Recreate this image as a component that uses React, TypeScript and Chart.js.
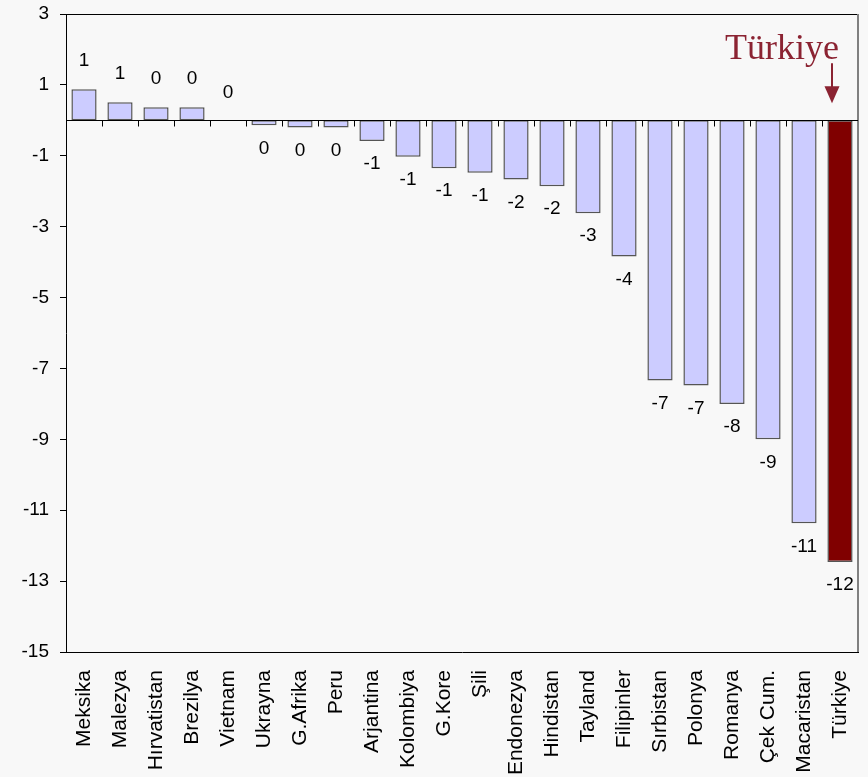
import { useEffect, useRef } from "react";
import { Chart, registerables } from "chart.js";

Chart.register(...registerables);

// Countries, ordered as plotted
const countries = [
  "Meksika", "Malezya", "Hırvatistan", "Brezilya", "Vietnam", "Ukrayna",
  "G.Afrika", "Peru", "Arjantina", "Kolombiya", "G.Kore", "Şili",
  "Endonezya", "Hindistan", "Tayland", "Filipinler", "Sırbistan", "Polonya",
  "Romanya", "Çek Cum.", "Macaristan", "Türkiye",
];

// Change for each country
const values = [
  0.88, 0.51, 0.37, 0.37, 0.0, -0.14,
  -0.2, -0.2, -0.58, -1.03, -1.35, -1.48,
  -1.67, -1.86, -2.62, -3.84, -7.34, -7.48,
  -8.0, -9.0, -11.37, -12.46,
];

const yTickValues = [3, 1, -1, -3, -5, -7, -9, -11, -13, -15];
const highlighted = "Türkiye";
const annotationText = "Türkiye";

const BG = "#f8f8f8";
const BAR_FILL = "#ccccff";
const HIGHLIGHT_FILL = "#800000";
const ANNOT_COLOR = "#8b2332";
const SANS = '"Liberation Sans", Arial, sans-serif';

const fmt = (v: number) => String(Math.round(v) === 0 ? 0 : Math.round(v));

const decorPlugin = {
  id: "decor",
  beforeDraw(chart: any) {
    const { ctx, width, height } = chart;
    ctx.save();
    ctx.fillStyle = BG;
    ctx.fillRect(0, 0, width, height);
    ctx.restore();
  },
  afterDatasetsDraw(chart: any) {
    const { ctx, chartArea } = chart;
    const ys = chart.scales.y;
    const zeroY = Math.round(ys.getPixelForValue(0)) + 0.5;
    ctx.save();

    // frame: top and right
    ctx.lineWidth = 1;
    ctx.strokeStyle = "#000";
    ctx.beginPath();
    ctx.moveTo(chartArea.left, chartArea.top + 0.5);
    ctx.lineTo(chartArea.right, chartArea.top + 0.5);
    ctx.stroke();
    ctx.strokeStyle = "#808080";
    ctx.lineWidth = 2;
    ctx.beginPath();
    ctx.moveTo(chartArea.right, chartArea.top);
    ctx.lineTo(chartArea.right, chartArea.bottom);
    ctx.stroke();

    // category axis at zero with tick marks between categories
    ctx.strokeStyle = "#000";
    ctx.lineWidth = 1;
    ctx.beginPath();
    ctx.moveTo(chartArea.left, zeroY);
    ctx.lineTo(chartArea.right, zeroY);
    const step = (chartArea.right - chartArea.left) / countries.length;
    for (let i = 1; i < countries.length; i++) {
      const x = Math.round(chartArea.left + i * step) + 0.5;
      ctx.moveTo(x, zeroY);
      ctx.lineTo(x, zeroY + 6);
    }
    ctx.stroke();

    // value labels
    const meta = chart.getDatasetMeta(0);
    ctx.fillStyle = "#000";
    ctx.font = `19px ${SANS}`;
    ctx.textAlign = "center";
    ctx.textBaseline = "middle";
    meta.data.forEach((bar: any, i: number) => {
      const v = values[i];
      const y = v >= 0 ? bar.y - 28 : bar.y + 23;
      ctx.fillText(fmt(v), bar.x, y);
    });

    // annotation over the highlighted country
    const hi = countries.indexOf(highlighted);
    const hb = meta.data[hi];
    const ax = hb.x - 8;
    const zero = ys.getPixelForValue(0);
    ctx.fillStyle = ANNOT_COLOR;
    ctx.strokeStyle = ANNOT_COLOR;
    ctx.font = `36px "Liberation Serif", "Times New Roman", serif`;
    ctx.textAlign = "right";
    ctx.textBaseline = "alphabetic";
    ctx.fillText(annotationText, hb.x - 1, zero - 61);
    ctx.lineWidth = 2;
    ctx.beginPath();
    ctx.moveTo(ax, zero - 57);
    ctx.lineTo(ax, zero - 32);
    ctx.stroke();
    ctx.beginPath();
    ctx.moveTo(ax - 7.5, zero - 34);
    ctx.lineTo(ax + 7.5, zero - 34);
    ctx.lineTo(ax, zero - 17);
    ctx.closePath();
    ctx.fill();

    ctx.restore();
  },
};

export default function App() {
  const canvasRef = useRef<HTMLCanvasElement | null>(null);

  useEffect(() => {
    const canvas = canvasRef.current;
    if (!canvas) return;
    const chart = new Chart(canvas, {
      type: "bar",
      data: {
        labels: countries,
        datasets: [
          {
            data: values,
            backgroundColor: countries.map((c) => (c === highlighted ? HIGHLIGHT_FILL : BAR_FILL)),
            borderColor: "#555555",
            borderWidth: 1.5,
            borderSkipped: false,
            categoryPercentage: 1,
            barPercentage: 0.7,
          },
        ],
      },
      options: {
        responsive: false,
        animation: false,
        layout: { padding: { top: 14, right: 10, left: 0, bottom: 0 } },
        plugins: {
          legend: { display: false },
          tooltip: { enabled: false },
        },
        scales: {
          x: {
            grid: { display: false },
            border: { display: true, color: "#000", width: 1 },
            ticks: {
              color: "#000",
              font: { family: SANS, size: 21 },
              maxRotation: 90,
              minRotation: 90,
              autoSkip: false,
              padding: 10,
            },
            afterFit: (scale: any) => {
              scale.height = 125;
              scale.paddingLeft = 0;
              scale.paddingRight = 0;
            },
          },
          y: {
            min: -15,
            max: 3,
            grid: {
              drawOnChartArea: false,
              drawTicks: true,
              tickLength: 6,
              color: "#000",
            },
            border: { display: true, color: "#000", width: 1 },
            ticks: {
              color: "#000",
              font: { family: SANS, size: 19 },
              padding: 11,
            },
            afterBuildTicks: (scale: any) => {
              scale.ticks = yTickValues.map((v) => ({ value: v }));
            },
            afterFit: (scale: any) => {
              scale.width = 66;
              scale.paddingTop = 0;
              scale.paddingBottom = 0;
            },
          },
        },
      },
      plugins: [decorPlugin],
    });
    return () => chart.destroy();
  }, []);

  return (
    <div style={{ position: "fixed", left: 0, top: 0, width: 868, height: 777, background: BG }}>
      <canvas ref={canvasRef} width={868} height={777} style={{ display: "block" }} />
    </div>
  );
}
